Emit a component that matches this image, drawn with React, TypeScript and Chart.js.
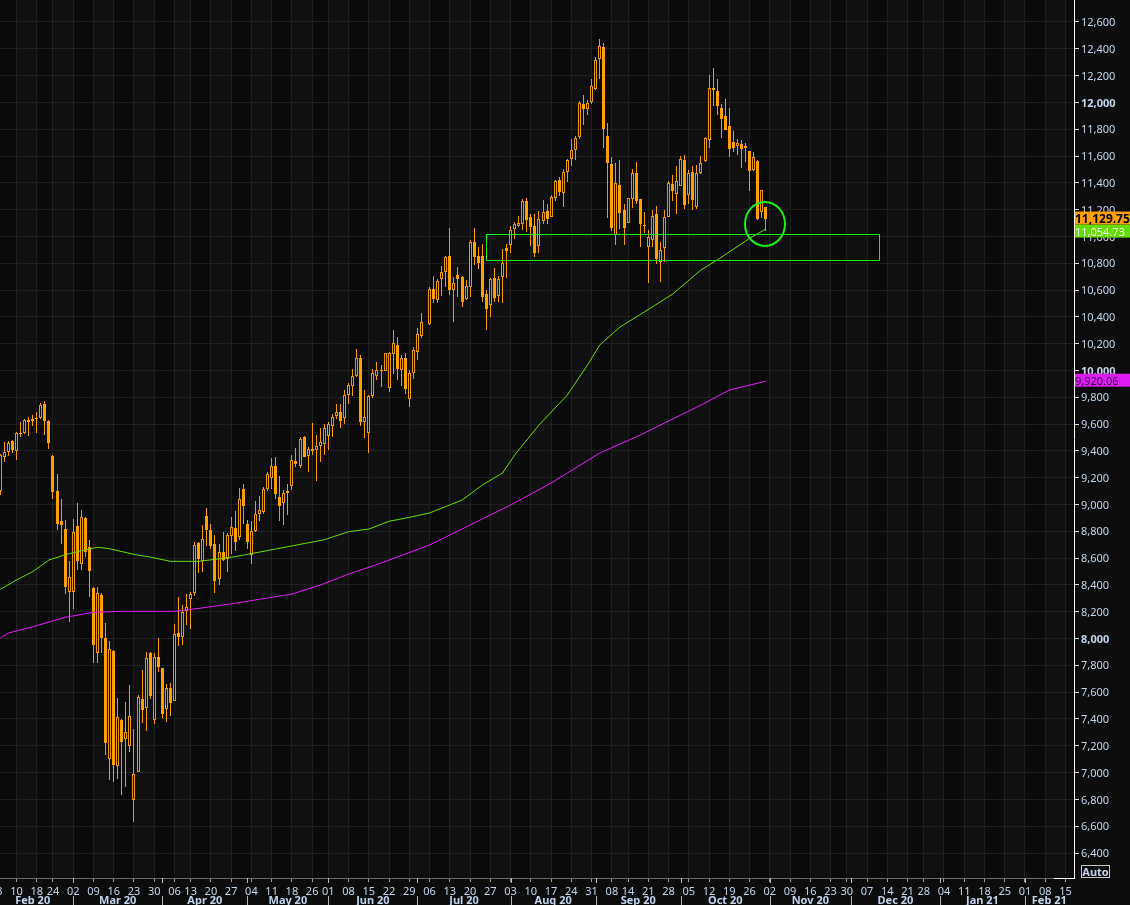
import React, { useEffect, useRef } from "react";
import { Chart, registerables } from "chart.js";

Chart.register(...registerables);

// one entry per session, index = bar number on the x axis, null = no session drawn
const opens = [
  9103, 9357, 9392, 9476, 9402, 9534, 9534, 9631, 9636, 9645, 9645, 9750, 9623, 9362, 9101, 8877, 8817, 8347, 8347, 8840,
  8556, 8899, 8683, 8377, 7894, 8322, 8001, 7104, 7907, 7051, 7392, 7253, 7201, 6798, 7007, 7546, 7484, 7889, 7394, 7860,
  7780, 7477, 7631, 7536, 8041, 8014, 8203, 8297, 8342, 8713, 8579, 8914, 8810, 8705, 8444, 8646, 8593, 8765, 8825, 8758,
  9116, 8855, 8623, 8802, 8929, 8946, 9118, 9200, 9287, 9056, 9014, 9101, 9140, 9324, 9287, 9504, 9362, 9414, 9409, 9436,
  9451, 9511, 9586, 9660, 9690, 9645, 9817, 9884, 9959, 10093, 9615, 9533, 9809, 9959, 10003, 9996, 9869, 10123, 10190, 10003,
  10093, 9787, 9981, 10138, 10260, null, 10347, 10608, 10526, 10680, 10732, 10854, 10600, 10712, 10695, 10533, 10623, 10958, 10854, 10854,
  10570, 10488, 10690, 10556, 10697, 10914, 10936, 11055, 11078, 11093, 11264, 11145, 11078, 10929, 11115, 11190, 11145, 11289, 11419, 11327,
  11483, 11580, 11642, 11744, 11988, 11953, 12003, 12100, 12324, 12413, 11749, 11540, 11011, 11384, 11197, 11100, 11279, 11473, 11279, 11085,
  10923, 10971, 11167, 10809, 10914, 11145, 11391, 11316, 11376, 11570, 11309, 11481, 11219, 11473, 11563, 11719, 12107, 12085, 11958, 11898,
  11824, 11704, 11677, 11689, 11675, 11637, 11495, 11563, 11182, 11219,
];
const closes = [
  9369, 9389, 9456, 9407, 9534, 9529, 9631, 9618, 9626, 9638, 9742, 9626, 9459, 9096, 8855, 8847, 8387, 8459, 8795, 8579,
  8907, 8646, 8504, 7952, 8337, 8006, 7218, 7919, 7056, 7412, 7228, 7300, 7419, 6987, 7561, 7469, 7852, 7574, 7860, 7788,
  7437, 7631, 7521, 8031, 8014, 8195, 8233, 8330, 8698, 8593, 8740, 8810, 8690, 8429, 8646, 8586, 8773, 8832, 8720, 9041,
  8989, 8720, 8802, 8929, 8959, 9113, 9227, 9287, 9081, 8989, 9086, 9086, 9332, 9302, 9489, 9354, 9411, 9399, 9436, 9466,
  9571, 9601, 9653, 9690, 9623, 9817, 9892, 9959, 10093, 9615, 9653, 9809, 9981, 10003, 9996, 10130, 10130, 10205, 10011, 10093,
  9862, 9981, 10153, 10272, 10359, null, 10608, 10533, 10665, 10732, 10846, 10600, 10650, 10682, 10511, 10628, 10958, 10846, 10802, 10548,
  10459, 10682, 10541, 10680, 10802, 10891, 11048, 11093, 11100, 11264, 11123, 11070, 10876, 11130, 11182, 11130, 11294, 11411, 11334, 11478,
  11568, 11645, 11734, 11995, 11951, 11993, 12120, 12316, 12421, 11801, 11548, 11063, 11398, 11175, 11063, 11287, 11473, 11264, 11093, 11078,
  10993, 11152, 10831, 10899, 11145, 11398, 11339, 11413, 11578, 11234, 11473, 11272, 11473, 11548, 11734, 12107, 12092, 11973, 11876, 11794,
  11652, 11660, 11697, 11652, 11660, 11488, 11592, 11130, 11346, 11130,
];
const highs = [
  9377, 9466, 9474, 9481, 9541, 9616, 9638, 9650, 9665, 9690, 9755, 9770, 9631, 9367, 9228, 9041, 8884, 8579, 8892, 9011,
  8959, 8907, 8735, 8387, 8382, 8337, 8113, 7981, 7914, 7556, 7400, 7526, 7653, 7325, 7579, 7765, 7899, 7899, 7889, 8004,
  7780, 7661, 7668, 8108, 8310, 8250, 8332, 8347, 8718, 8718, 8847, 8974, 8855, 8773, 8705, 8795, 8787, 8907, 8952, 9123,
  9153, 8884, 8877, 9026, 9063, 9128, 9242, 9347, 9354, 9212, 9108, 9153, 9369, 9421, 9504, 9511, 9429, 9608, 9518, 9571,
  9601, 9615, 9675, 9750, 9750, 9854, 9906, 10011, 10160, 10115, 9854, 9817, 10011, 10063, 10041, 10130, 10138, 10302, 10250, 10115,
  10130, 10003, 10175, 10317, 10429, null, 10623, 10705, 10682, 10779, 10854, 11063, 10697, 10772, 10705, 10675, 10973, 11063, 10921, 10944,
  10600, 10690, 10764, 10705, 10906, 10944, 11078, 11108, 11152, 11279, 11287, 11167, 11167, 11190, 11272, 11242, 11309, 11421, 11441, 11501,
  11578, 11727, 11749, 12010, 12055, 12018, 12174, 12339, 12473, 12443, 11846, 11592, 11548, 11570, 11242, 11287, 11503, 11555, 11279, 11185,
  11048, 11197, 11227, 10958, 11197, 11413, 11458, 11525, 11600, 11607, 11495, 11525, 11533, 11600, 11742, 12204, 12256, 12174, 11988, 12025,
  11958, 11786, 11727, 11719, 11697, 11637, 11630, 11570, 11346, 11219,
];
const lows = [
  9071, 9317, 9362, 9384, 9332, 9504, 9526, 9511, 9588, 9534, 9636, 9519, 9414, 9041, 8810, 8705, 8332, 8123, 8220, 8511,
  8511, 8608, 8310, 7820, 7820, 7894, 7131, 6944, 6932, 6952, 6832, 6892, 7153, 6631, 7001, 7370, 7310, 7549, 7362, 7750,
  7407, 7377, 7422, 7536, 7944, 7952, 8101, 8071, 8317, 8489, 8499, 8690, 8666, 8340, 8399, 8579, 8496, 8631, 8653, 8735,
  8855, 8668, 8556, 8795, 8879, 8929, 9103, 9116, 9043, 8877, 8849, 8922, 9108, 9280, 9272, 9354, 9242, 9369, 9175, 9317,
  9369, 9407, 9504, 9638, 9571, 9601, 9750, 9809, 9951, 9586, 9496, 9384, 9795, 9929, 9877, 9996, 9839, 9974, 9929, 9884,
  9824, 9727, 9936, 10078, 10242, null, 10339, 10503, 10503, 10555, 10623, 10563, 10362, 10548, 10473, 10526, 10548, 10787, 10757, 10511,
  10302, 10399, 10511, 10511, 10503, 10690, 10876, 10981, 11070, 11048, 11033, 10929, 10846, 10876, 11093, 11093, 11145, 11267, 11302, 11222,
  11406, 11525, 11570, 11727, 11831, 11906, 11988, 12092, 12174, 11660, 11137, 11040, 10936, 11055, 10936, 11100, 11212, 11242, 10921, 11023,
  10652, 10921, 10794, 10660, 10809, 11145, 11264, 11167, 11376, 11204, 11242, 11197, 11204, 11466, 11555, 11660, 11973, 11906, 11734, 11794,
  11592, 11630, 11607, 11510, 11555, 11339, 11488, 11122, 11137, 11040,
];

// moving averages, read at a few bars along the curve
const greenBars = [0, 4, 8, 12, 16, 20, 24, 27, 33, 37, 42, 49, 53, 58, 64, 80, 86, 91, 96, 101, 106, 114, 119, 124, 127, 133, 140, 145, 148, 153, 159, 166, 173, 177, 185, 189];
const greenValues = [8367, 8437, 8499, 8586, 8625, 8655, 8681, 8670, 8628, 8608, 8576, 8576, 8591, 8611, 8645, 8737, 8797, 8817, 8875, 8904, 8937, 9033, 9145, 9235, 9369, 9593, 9817, 10041, 10190, 10324, 10436, 10570, 10750, 10824, 10986, 11055];
const magentaBars = [0, 2, 8, 16, 23, 30, 43, 49, 58, 64, 72, 79, 86, 94, 106, 116, 126, 136, 148, 158, 164, 173, 180, 189];
const magentaValues = [8004, 8041, 8088, 8158, 8196, 8203, 8203, 8225, 8263, 8293, 8332, 8399, 8481, 8563, 8698, 8847, 8996, 9160, 9384, 9518, 9608, 9742, 9854, 9920];

const yTicks = [6400, 6600, 6800, 7000, 7200, 7400, 7600, 7800, 8000, 8200, 8400, 8600, 8800, 9000, 9200, 9400, 9600, 9800, 10000, 10200, 10400, 10600, 10800, 11000, 11200, 11400, 11600, 11800, 12000, 12200, 12400, 12600];
const boldTicks = [8000, 10000, 12000];

const dayBars = [-1, 4, 9, 13, 18, 23, 28, 33, 38, 43, 47, 52, 57, 62, 67, 72, 77, 81, 86, 91, 96, 101, 106, 111, 116, 121, 126, 131, 136, 141, 146, 151, 155, 160, 165, 170, 175, 180, 185, 190, 195, 200, 205, 209, 214, 219, 224, 228, 233, 238, 243, 248, 253, 258, 263];
const dayLabels = ["03", "10", "18", "24", "02", "09", "16", "23", "30", "06", "13", "20", "27", "04", "11", "18", "26", "01", "08", "15", "22", "29", "06", "13", "20", "27", "03", "10", "17", "24", "31", "08", "14", "21", "28", "05", "12", "19", "26", "02", "09", "16", "23", "30", "07", "14", "21", "28", "04", "11", "18", "25", "01", "08", "15"];

const monthBars = [-2, 18, 40, 61, 81, 103, 126, 147, 168, 190, 210, 232, 253, 265];
const monthLabels = ["Feb 20", "Mar 20", "Apr 20", "May 20", "Jun 20", "Jul 20", "Aug 20", "Sep 20", "Oct 20", "Nov 20", "Dec 20", "Jan 21", "Feb 21"];

// price tags on the right edge
const tagValues = [11129.75, 11054.73, 9920.06];
const tagTexts = ["11,129.75", "11,054.73", "9,920.06"];
const tagFills = ["#ff9f00", "#66dd00", "#e01cf5"];
const tagInks = ["#000000", "#ffffff", "#2a0a40"];
const tagFonts = ["bold 12px 'Noto Sans'", "11px 'Noto Sans'", "11px 'Noto Sans'"];
const tagNudges = [-1, 2, -1];

// hand drawn annotations, in bars and price
const boxBars = [120, 217];
const boxPrices = [11016, 10822];
const circleBar = 188.8;
const circlePrice = 11093;
const circleBarRadius = 4.94;
const circlePriceRadius = 164;

const ORANGE = "#ff9f00";
const HOLLOW_EDGE = "#ea960a";
const WICK = "#f59b00";
const PANEL = "#0c0c0c";
const LABEL = "#c4d6ee";

const candles = opens.map((o, i) => ({ i, o, c: closes[i], h: highs[i], l: lows[i] })).filter((d) => d.o !== null);

// pixel snapping so 1px wicks stay crisp, bars are still placed by the scales
const snapBars = {
  id: "snapBars",
  beforeDatasetsDraw(chart: any) {
    chart.getSortedVisibleDatasetMetas().forEach((meta: any) => {
      if (meta.type !== "bar") return;
      meta.data.forEach((el: any) => {
        el.x = Math.floor(el.x) + 0.5;
        el.y = Math.round(el.y);
        el.base = Math.round(el.base);
      });
    });
  },
};

const weekBands = {
  id: "weekBands",
  beforeDraw(chart: any) {
    const { ctx, chartArea, scales } = chart;
    ctx.save();
    ctx.fillStyle = PANEL;
    ctx.fillRect(0, 0, chart.width, chart.height);
    const edges = [...dayBars, 265.2];
    for (let k = 0; k < edges.length - 1; k++) {
      const a = Math.max(scales.x.getPixelForValue(edges[k]), 0);
      const b = Math.min(scales.x.getPixelForValue(edges[k + 1]), chartArea.right);
      ctx.fillStyle = k % 2 === 0 ? "#0a0a0a" : "#101010";
      ctx.fillRect(a, chartArea.top, b - a, chartArea.bottom - chartArea.top);
    }
    ctx.restore();
  },
};

const overlays = {
  id: "overlays",
  afterDatasetsDraw(chart: any) {
    const { ctx, scales } = chart;
    const { x, y } = scales;
    ctx.save();
    ctx.strokeStyle = "#14f014";
    ctx.lineWidth = 1;
    const left = Math.round(x.getPixelForValue(boxBars[0])) + 0.5;
    const right = Math.round(x.getPixelForValue(boxBars[1])) + 0.5;
    const top = Math.round(y.getPixelForValue(boxPrices[0])) + 0.5;
    const bottom = Math.round(y.getPixelForValue(boxPrices[1])) + 0.5;
    ctx.strokeRect(left, top, right - left, bottom - top);

    const cx = x.getPixelForValue(circleBar);
    const cy = y.getPixelForValue(circlePrice);
    const rx = x.getPixelForValue(circleBar + circleBarRadius) - cx;
    const ry = cy - y.getPixelForValue(circlePrice + circlePriceRadius);
    ctx.lineWidth = 2;
    ctx.strokeStyle = "#14f014";
    ctx.beginPath();
    ctx.ellipse(cx, cy, rx, ry, 0, 0, Math.PI * 2);
    ctx.stroke();
    ctx.restore();
  },
  afterDraw(chart: any) {
    const { ctx, chartArea, scales } = chart;
    const { x, y } = scales;
    ctx.save();

    // month row under the day ticks
    ctx.textAlign = "center";
    ctx.textBaseline = "middle";
    ctx.font = "bold 11px 'Noto Sans'";
    for (let k = 0; k < monthLabels.length; k++) {
      const a = x.getPixelForValue(monthBars[k]);
      const b = x.getPixelForValue(monthBars[k + 1]);
      ctx.fillStyle = LABEL;
      ctx.fillText(monthLabels[k], (a + b) / 2, 901);
      if (k > 0) {
        const px = Math.round(a) + 0.5;
        ctx.strokeStyle = "#b8b8b8";
        ctx.lineWidth = 1;
        ctx.beginPath();
        ctx.moveTo(px, 896);
        ctx.lineTo(px, 905);
        ctx.moveTo(px, chartArea.bottom);
        ctx.lineTo(px, chartArea.bottom + 5);
        ctx.stroke();
      }
    }

    // corner of the axis frame
    ctx.strokeStyle = "#ffffff";
    ctx.lineWidth = 1;
    ctx.beginPath();
    ctx.moveTo(chartArea.right - 20, chartArea.bottom + 0.5);
    ctx.lineTo(chartArea.right + 0.5, chartArea.bottom + 0.5);
    ctx.stroke();

    // price tags
    ctx.textAlign = "left";
    tagValues.forEach((v, k) => {
      const cy = y.getPixelForValue(v) + tagNudges[k];
      ctx.fillStyle = tagFills[k];
      ctx.fillRect(chartArea.right + 1, cy - 6.5, chart.width - chartArea.right - 1, 13);
      ctx.fillStyle = tagInks[k];
      ctx.font = tagFonts[k];
      ctx.fillText(tagTexts[k], chartArea.right + 1, cy + 1.5);
    });

    // Auto button
    ctx.strokeStyle = "#c8c8c8";
    ctx.strokeRect(chartArea.right + 7.5, chartArea.bottom - 12.5, 28, 12);
    ctx.fillStyle = LABEL;
    ctx.font = "bold 11px 'Noto Sans'";
    ctx.textAlign = "center";
    ctx.fillText("Auto", chartArea.right + 21.5, chartArea.bottom - 5.5);
    ctx.restore();
  },
};

const noPadding = (scale: any) => {
  scale.paddingLeft = 0;
  scale.paddingRight = 0;
  scale.paddingTop = 0;
  scale.paddingBottom = 0;
};

export default function App() {
  const chartRef = useRef<HTMLCanvasElement | null>(null);
  const chartInstanceRef = useRef<Chart | null>(null);

  useEffect(() => {
    if (!chartRef.current) return;
    if (chartInstanceRef.current) chartInstanceRef.current.destroy();

    // inflateAmount 0: the 'auto' default widens bars by a third of a pixel and blurs them
    const barBase = { type: "bar", grouped: false, barPercentage: 1, categoryPercentage: 1, borderSkipped: false, inflateAmount: 0 };

    chartInstanceRef.current = new Chart(chartRef.current, {
      type: "bar",
      data: {
        datasets: [
          {
            label: "Magenta average",
            type: "line",
            data: magentaBars.map((b, k) => ({ x: b, y: magentaValues[k] })),
            borderColor: "#e01cf5",
            borderWidth: 1,
            pointRadius: 0,
            tension: 0,
            order: 1,
          },
          {
            label: "Green average",
            type: "line",
            data: greenBars.map((b, k) => ({ x: b, y: greenValues[k] })),
            borderColor: "#66dd00",
            borderWidth: 1,
            pointRadius: 0,
            tension: 0,
            order: 1,
          },
          {
            ...barBase,
            label: "Down",
            data: candles.filter((d) => d.c < d.o).map((d) => ({ x: d.i, y: [d.o, d.c] })),
            backgroundColor: ORANGE,
            borderColor: ORANGE,
            borderWidth: 1,
            maxBarThickness: 3,
            order: 2,
          },
          {
            ...barBase,
            label: "Up",
            data: candles.filter((d) => d.c >= d.o).map((d) => ({ x: d.i, y: [d.o, d.c] })),
            backgroundColor: PANEL,
            borderColor: HOLLOW_EDGE,
            borderWidth: 1,
            maxBarThickness: 3,
            order: 2,
          },
          {
            ...barBase,
            label: "Range",
            data: candles.map((d) => ({ x: d.i, y: [d.l, d.h] })),
            backgroundColor: WICK,
            borderWidth: 0,
            maxBarThickness: 1,
            order: 3,
          },
        ] as any,
      },
      options: {
        responsive: false,
        animation: false,
        devicePixelRatio: 1,
        layout: { padding: 0 },
        plugins: { legend: { display: false }, title: { display: false }, tooltip: { enabled: false } },
        scales: {
          x: {
            type: "linear",
            position: "bottom",
            offset: false,
            min: -0.074,
            max: 265.1,
            afterBuildTicks: (axis: any) => {
              axis.ticks = dayBars.map((value) => ({ value }));
            },
            afterFit: (scale: any) => {
              scale.height = 27;
              noPadding(scale);
            },
            grid: { offset: false, color: "#1f1f1f", tickColor: "#a0a0a0", tickLength: 4, lineWidth: 1 },
            border: { color: "#6a6a6a" },
            ticks: {
              autoSkip: false,
              maxRotation: 0,
              minRotation: 0,
              padding: 3,
              color: LABEL,
              font: { family: "'Noto Sans'", size: 11 },
              callback: (_v: any, index: number) => dayLabels[index],
            },
          },
          y: {
            type: "linear",
            position: "right",
            min: 6213.5,
            max: 12764,
            afterBuildTicks: (axis: any) => {
              axis.ticks = yTicks.map((value) => ({ value }));
            },
            afterFit: (scale: any) => {
              scale.width = 56;
              noPadding(scale);
            },
            grid: { color: "#1f1f1f", tickColor: "#d8d8d8", tickLength: 5, lineWidth: 1 },
            border: { color: "#ffffff" },
            ticks: {
              padding: 2,
              labelOffset: 1,
              color: LABEL,
              autoSkip: false,
              font: (ctx: any) => ({
                family: "'Noto Sans'",
                size: 11,
                weight: boldTicks.includes(ctx.tick?.value) ? "bold" : "normal",
              }),
              callback: (v: any) => Number(v).toLocaleString("en-US"),
            },
          },
        },
      },
      plugins: [weekBands, snapBars, overlays],
    } as any);

    return () => {
      if (chartInstanceRef.current) {
        chartInstanceRef.current.destroy();
        chartInstanceRef.current = null;
      }
    };
  }, []);

  return (
    <div style={{ position: "fixed", left: 0, top: 0, width: 1130, height: 905, background: PANEL, overflow: "hidden" }}>
      <canvas ref={chartRef} width={1130} height={905} style={{ display: "block" }}></canvas>
    </div>
  );
}
